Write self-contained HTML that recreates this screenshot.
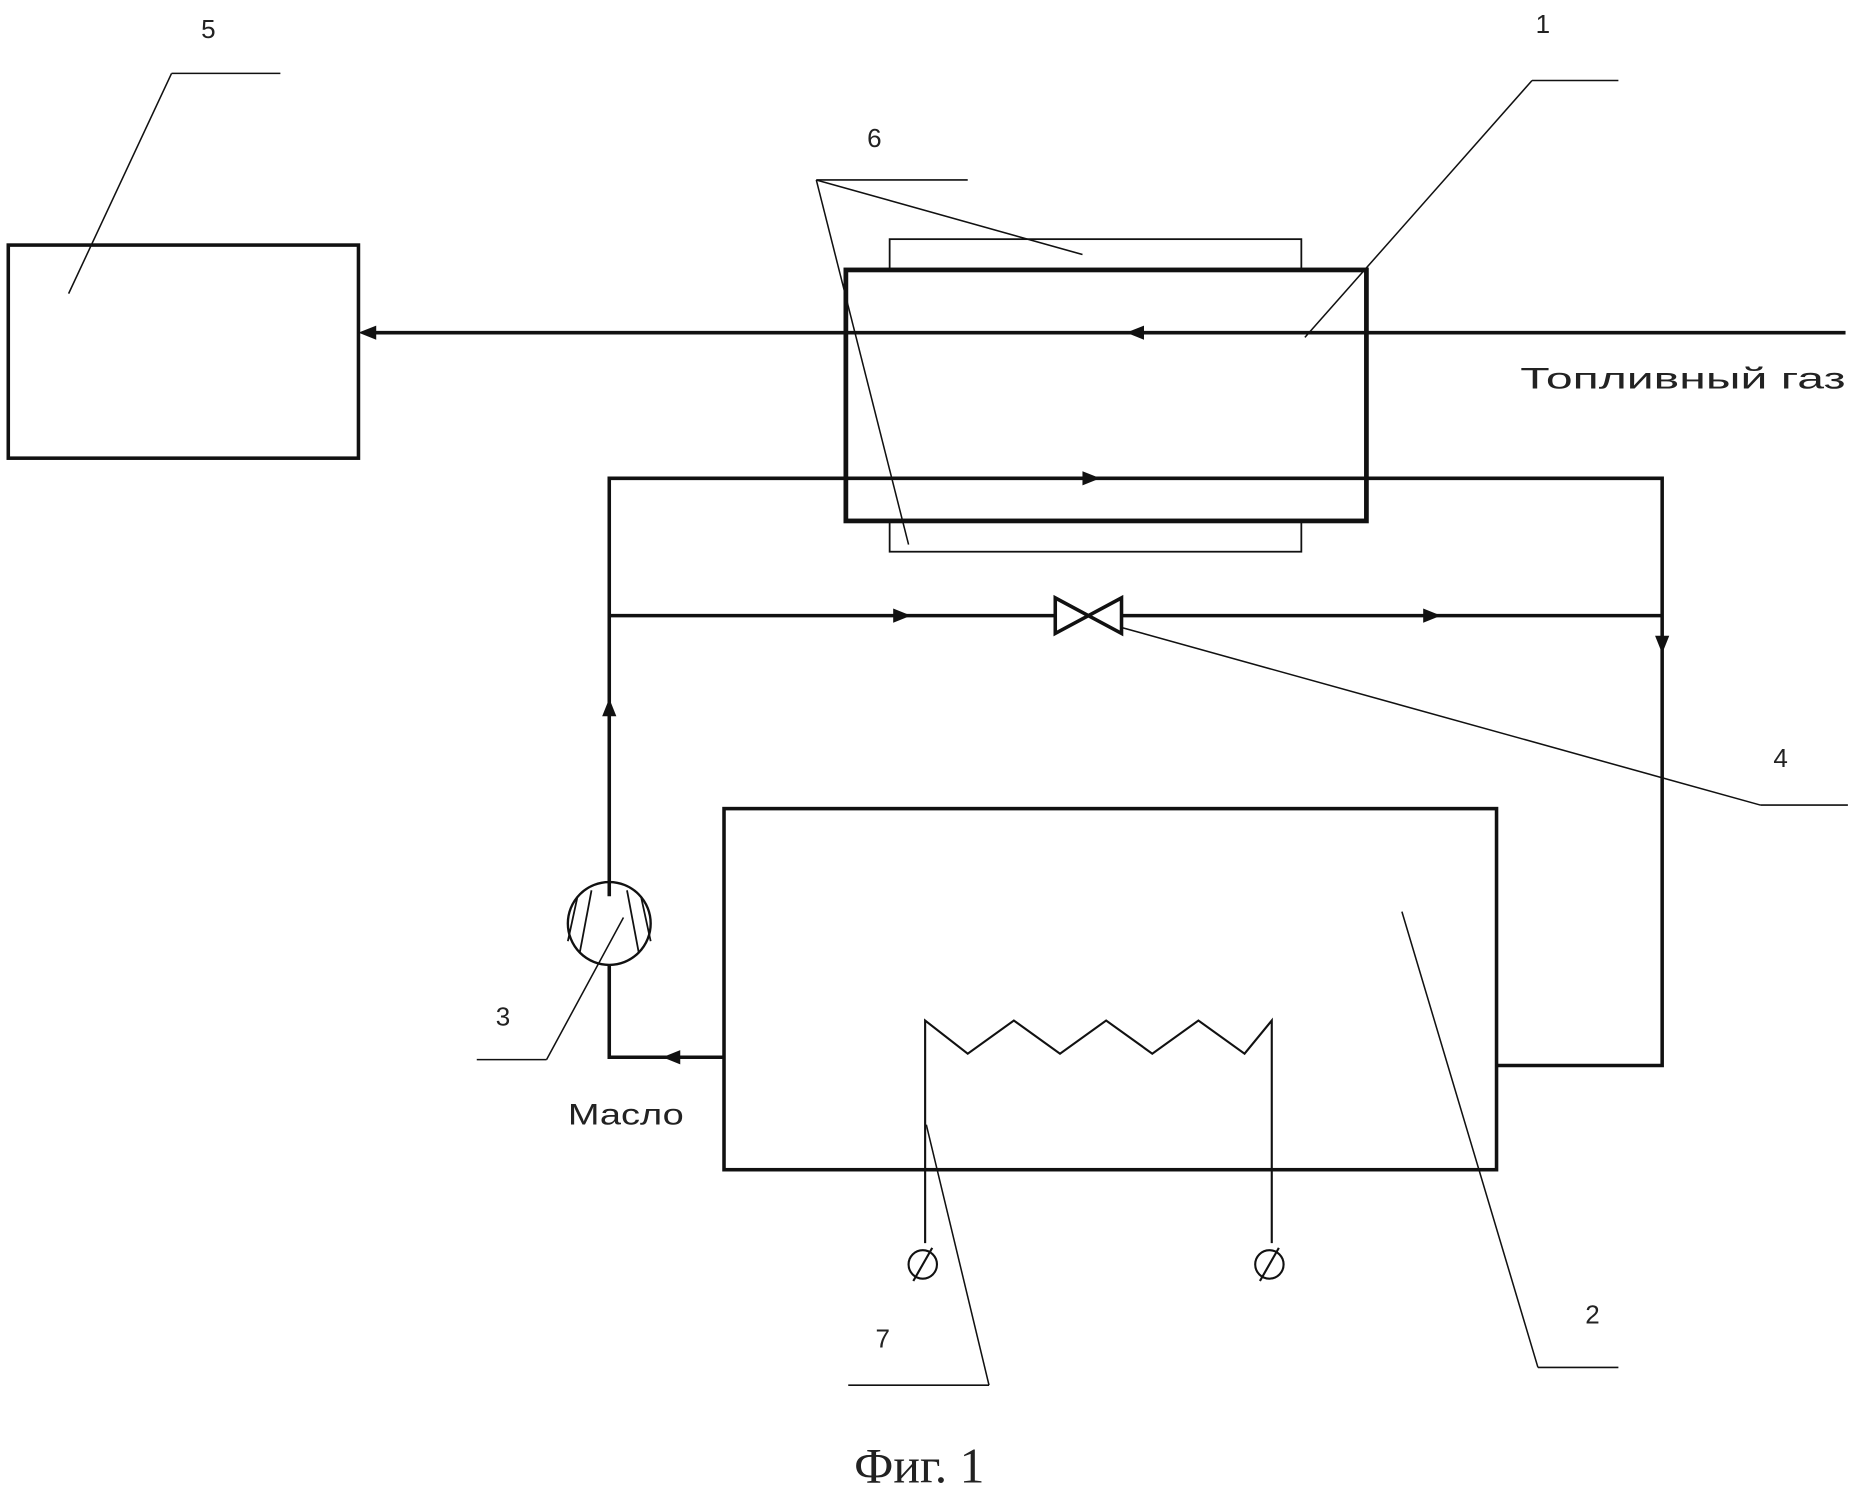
<!DOCTYPE html>
<html><head><meta charset="utf-8"><style>
html,body{margin:0;padding:0;background:#fff}
svg{display:block}
text{font-family:"Liberation Sans","DejaVu Sans",sans-serif;fill:#222}
</style></head><body>
<svg width="1855" height="1487" viewBox="0 0 1568 1256" preserveAspectRatio="none" xmlns="http://www.w3.org/2000/svg">
<g fill="none" stroke="#111">
<rect x="7" y="207" width="296" height="180" stroke-width="3"/>
<rect x="752" y="202" width="348" height="26" stroke-width="1.5"/>
<rect x="752" y="440" width="348" height="26" stroke-width="1.5"/>
<rect x="715" y="228" width="440" height="212" stroke-width="4" fill="#fff"/>
<line x1="1560" y1="281" x2="310" y2="281" stroke-width="3"/>
<polyline points="515,757 515,404 1405,404 1405,900 1265,900" stroke-width="3"/>
<line x1="515" y1="520" x2="892" y2="520" stroke-width="3"/>
<line x1="948" y1="520" x2="1405" y2="520" stroke-width="3"/>
<polyline points="515,815 515,893 612,893" stroke-width="3"/>
<rect x="612" y="683" width="653" height="305" stroke-width="3"/>
<polyline points="782,1050 782,862 818,890 857,862 896,890 935,862 974,890 1013,862 1052,890 1075,862 1075,1050" stroke-width="1.8"/>
<circle cx="780" cy="1068" r="12" stroke-width="1.8"/>
<line x1="772" y1="1082" x2="788" y2="1054" stroke-width="1.8"/>
<circle cx="1073" cy="1068" r="12" stroke-width="1.8"/>
<line x1="1065" y1="1082" x2="1081" y2="1054" stroke-width="1.8"/>
<circle cx="515" cy="780" r="35" stroke-width="2"/>
<line x1="488" y1="758" x2="480" y2="795" stroke-width="1.5"/>
<line x1="500" y1="752" x2="490" y2="805" stroke-width="1.5"/>
<line x1="530" y1="752" x2="540" y2="805" stroke-width="1.5"/>
<line x1="542" y1="758" x2="550" y2="795" stroke-width="1.5"/>
<polygon points="892,505 892,535 948,505 948,535" stroke-width="3" fill="#fff"/>
<g stroke-width="1.3">
<line x1="145" y1="62" x2="237" y2="62"/><line x1="145" y1="62" x2="58" y2="248"/>
<line x1="1295" y1="68" x2="1368" y2="68"/><line x1="1295" y1="68" x2="1103" y2="285"/>
<line x1="690" y1="152" x2="818" y2="152"/><line x1="690" y1="152" x2="915" y2="215"/><line x1="690" y1="152" x2="768" y2="460"/>
<line x1="1488" y1="680" x2="1562" y2="680"/><line x1="1488" y1="680" x2="948" y2="530"/>
<line x1="1300" y1="1155" x2="1368" y2="1155"/><line x1="1300" y1="1155" x2="1185" y2="770"/>
<line x1="403" y1="895" x2="462" y2="895"/><line x1="462" y1="895" x2="527" y2="775"/>
<line x1="717" y1="1170" x2="836" y2="1170"/><line x1="836" y1="1170" x2="783" y2="950"/>
</g>
</g>
<g fill="#111">
<polygon points="303,281 318,275 318,287"/>
<polygon points="952,281 967,275 967,287"/>
<polygon points="930,404 915,398 915,410"/>
<polygon points="770,520 755,514 755,526"/>
<polygon points="1218,520 1203,514 1203,526"/>
<polygon points="1405,552 1399,537 1411,537"/>
<polygon points="515,590 509,605 521,605"/>
<polygon points="560,893 575,887 575,899"/>
</g>
<g font-size="22">
<text x="170" y="32">5</text>
<text x="1298" y="28">1</text>
<text x="733" y="124">6</text>
<text x="1499" y="648">4</text>
<text x="419" y="866">3</text>
<text x="1340" y="1118">2</text>
<text x="740" y="1138">7</text>
<text x="1285" y="328" font-size="25" textLength="275" lengthAdjust="spacingAndGlyphs">Топливный газ</text>
<text x="480" y="950" font-size="25" textLength="98" lengthAdjust="spacingAndGlyphs">Масло</text>
</g>
<text x="722" y="1252" font-size="42" style="font-family:'Liberation Serif',serif">Фиг. 1</text>
</svg>
</body></html>
